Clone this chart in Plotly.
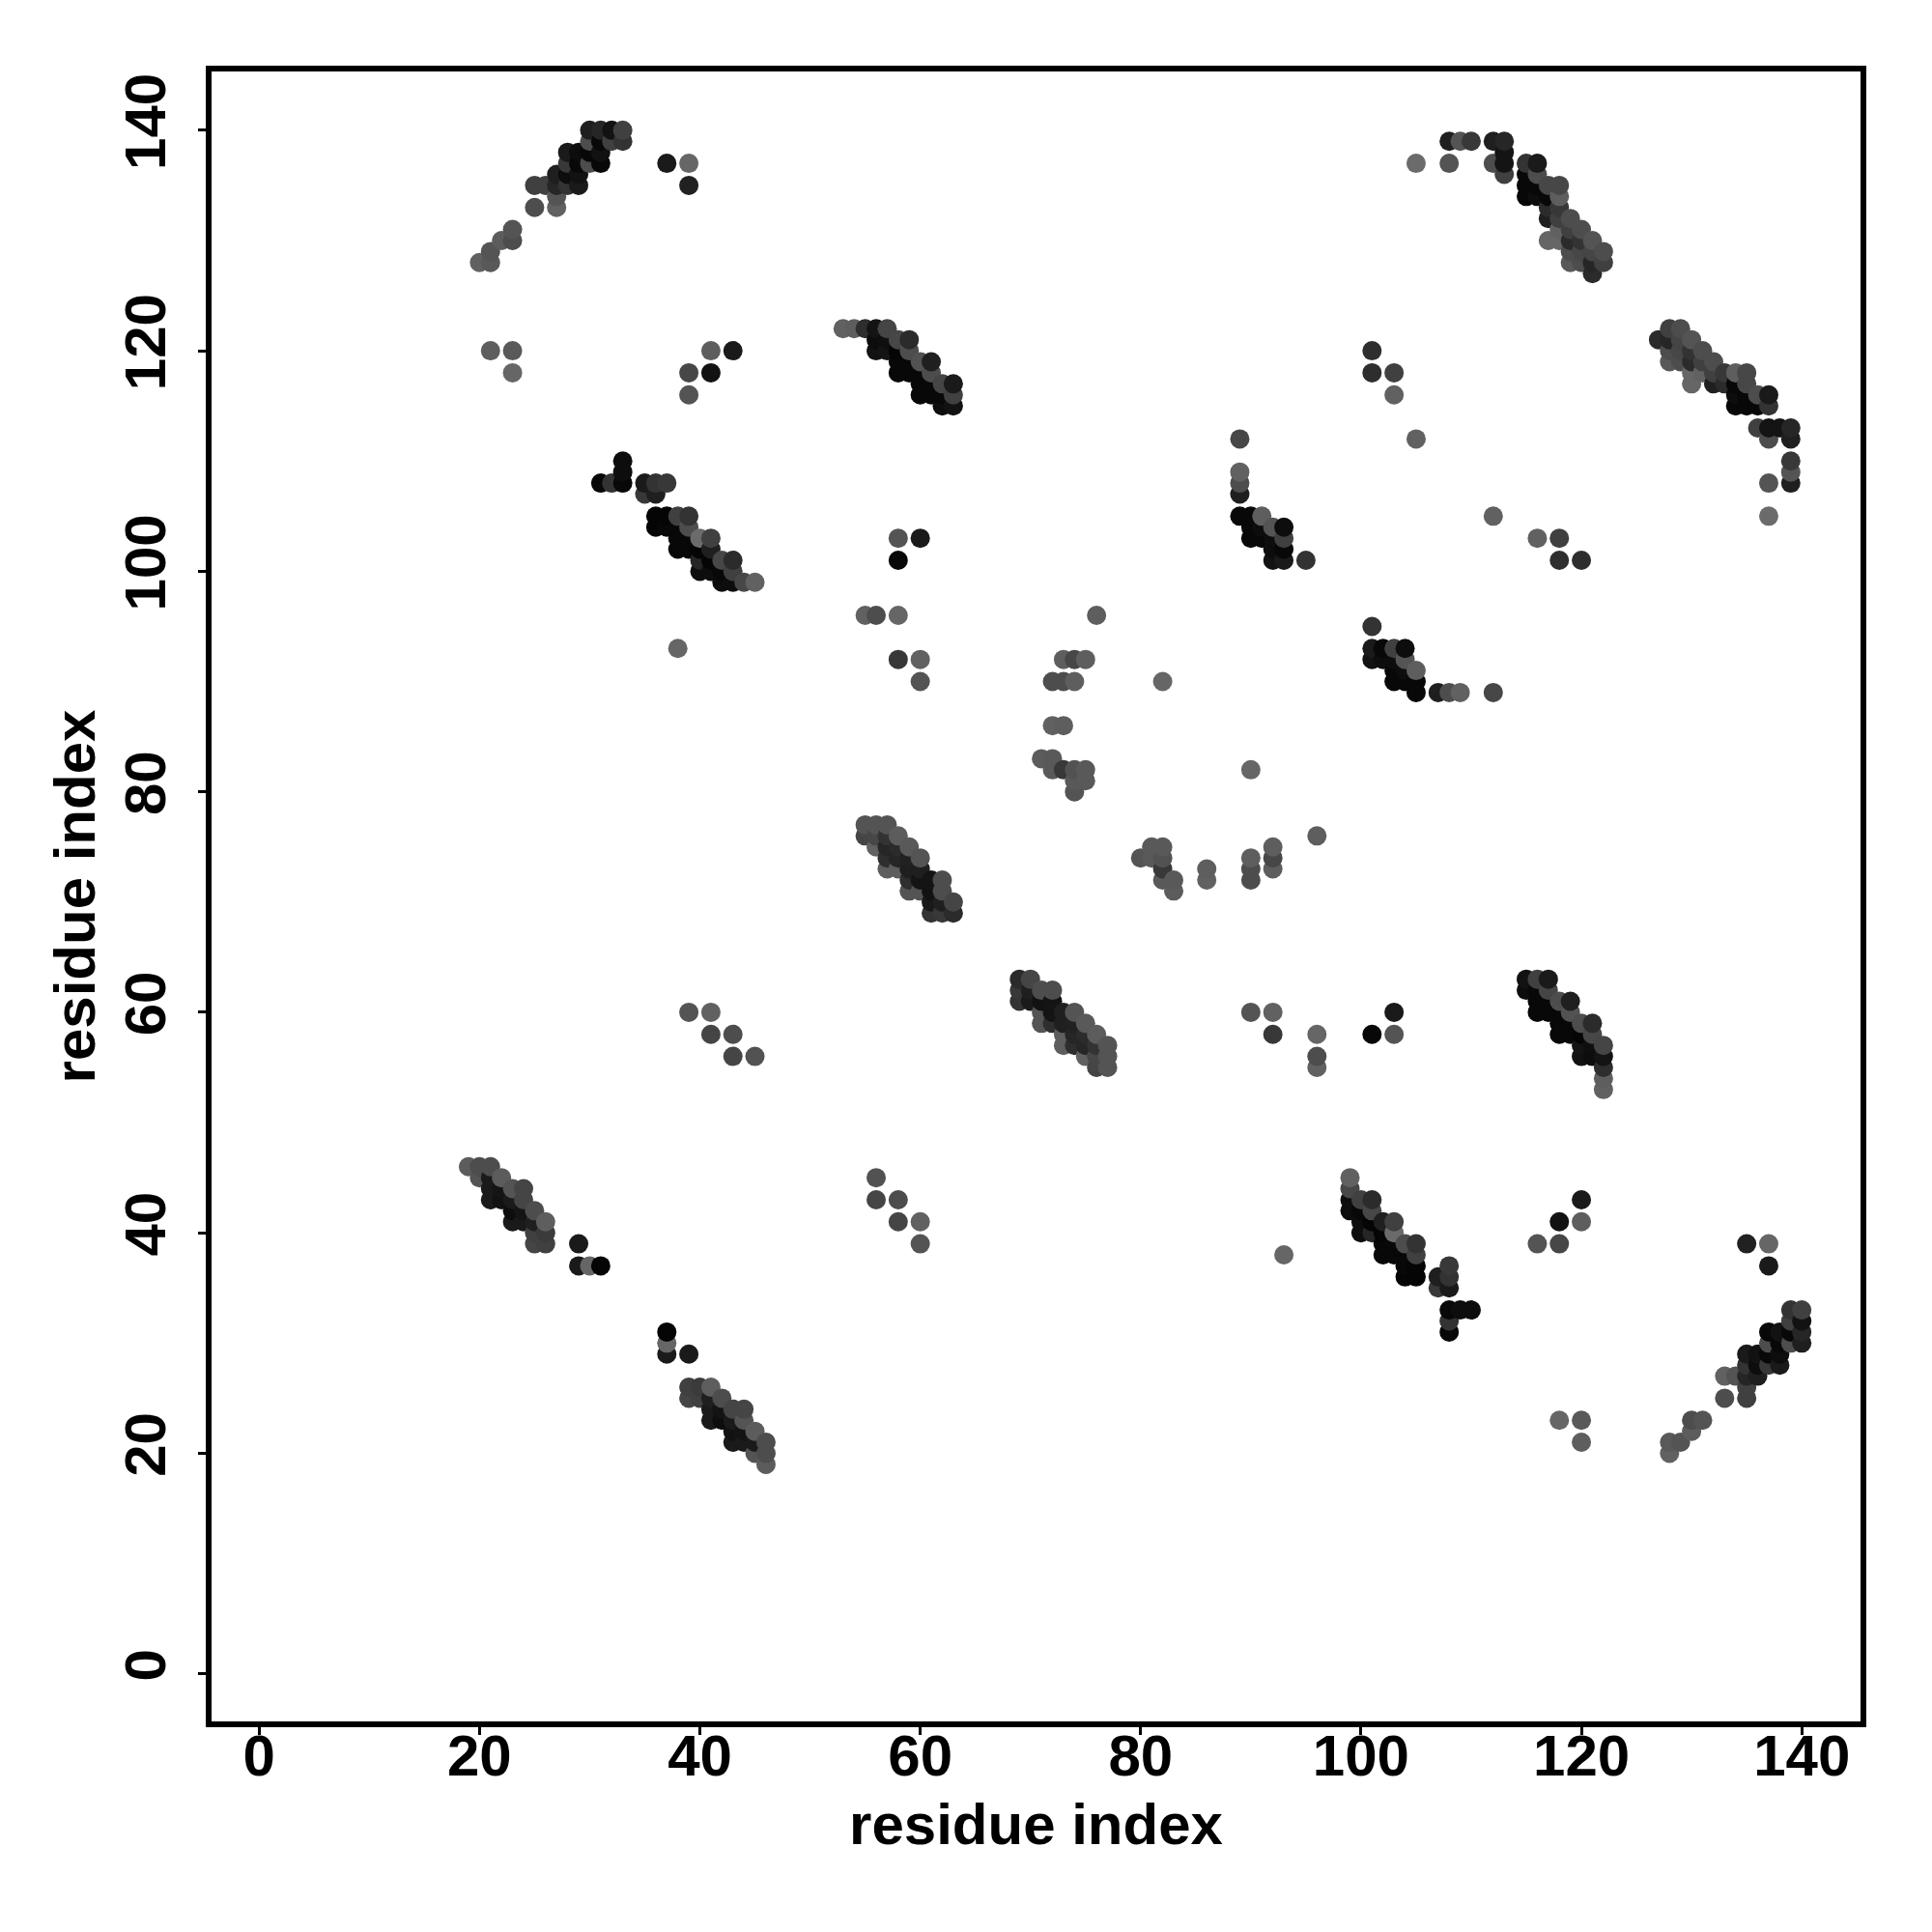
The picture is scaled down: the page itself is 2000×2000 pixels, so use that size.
import plotly.graph_objects as go

# one half of the symmetric contact map: (residue_a, residue_b, grey level 0=black .. 1=white)
contacts = [
 (20,128,.38),(21,128,.35),(21,129,.33),(22,130,.36),(23,130,.30),(23,131,.33),(25,133,.30),(27,133,.38),(27,134,.33),
 (25,135,.25),(26,135,.25),(27,135,.15),(28,135,.20),(29,135,.10),(27,136,.12),(28,136,.05),(29,136,.07),
 (28,137,.22),(29,137,.03),(30,137,.30),(31,137,.03),(28,138,.10),(29,138,.05),(30,138,.03),(31,138,.07),
 (30,139,.30),(31,139,.03),(32,139,.25),(33,139,.20),(30,140,.12),(31,140,.15),(32,140,.07),(33,140,.25),
 (37,137,.10),(39,137,.40),(39,135,.13),
 (21,120,.37),(23,120,.35),(23,118,.40),(39,116,.33),(39,118,.28),(41,120,.37),(41,118,.07),(43,120,.10),
 (53,122,.38),(54,122,.37),(55,122,.18),(56,122,.08),(57,122,.27),(56,121,.05),(57,121,.06),(58,121,.28),(59,121,.17),
 (56,120,.07),(57,120,.08),(58,120,.02),(59,120,.30),(60,119,.32),(61,119,.12),(58,119,.03),(59,119,.03),
 (58,118,.03),(59,118,.03),(60,118,.03),(61,118,.30),(60,117,.03),(61,117,.03),(62,117,.27),(63,117,.10),
 (60,116,.03),(61,116,.03),(62,116,.03),(63,116,.25),(62,115,.05),(63,115,.07),
 (31,108,.03),(32,108,.20),(33,108,.03),(33,109,.05),(33,110,.05),(35,108,.10),(36,108,.20),(37,108,.22),(35,107,.22),(36,107,.12),
 (36,105,.02),(37,105,.02),(38,105,.25),(39,105,.20),(36,104,.02),(37,104,.03),(38,104,.03),(39,104,.30),
 (38,103,.03),(39,103,.03),(40,103,.42),(41,103,.25),(38,102,.03),(39,102,.03),(40,102,.02),(41,102,.12),
 (40,101,.15),(41,101,.02),(42,101,.28),(43,101,.17),(40,100,.05),(41,100,.05),(42,100,.03),(43,100,.25),
 (42,99,.05),(43,99,.05),(44,99,.28),(45,99,.38),(38,93,.40),
 (76,96,.37),(73,92,.37),(74,92,.28),(75,92,.37),(72,90,.30),(73,90,.30),(74,90,.37),(72,86,.38),(73,86,.37),
 (71,83,.36),(72,83,.35),(72,82,.35),(73,82,.22),(74,82,.32),(75,82,.35),(74,81,.35),(75,81,.35),(74,80,.33),
 (89,112,.28),(89,109,.38),(89,108,.30),(89,107,.12),(89,105,.03),(90,105,.03),(91,105,.37),(90,104,.03),(91,104,.05),(92,104,.33),(93,104,.05),
 (90,103,.03),(91,103,.03),(92,103,.05),(93,103,.25),(92,102,.05),(93,102,.03),(92,101,.07),(93,101,.10),(95,101,.20),
 (105,137,.42),(108,139,.12),(109,139,.33),(110,139,.22),(108,137,.33),(112,139,.12),(113,139,.15),(112,137,.30),(113,138,.08),(113,137,.08),(113,136,.25),
 (115,137,.20),(116,137,.10),(115,136,.03),(116,136,.30),(115,135,.03),(116,135,.03),(117,135,.28),(118,135,.28),
 (115,134,.03),(116,134,.05),(117,134,.03),(118,134,.37),(117,133,.17),(118,133,.22),(117,132,.12),(118,132,.25),(119,132,.30),
 (118,131,.38),(119,131,.25),(120,131,.30),(117,130,.40),(118,130,.40),(119,130,.17),(120,130,.20),(121,130,.33),
 (119,129,.30),(120,129,.28),(121,129,.27),(122,129,.30),(119,128,.35),(120,128,.30),(121,128,.15),(122,128,.25),(121,127,.17),
 (19,46,.36),(20,46,.30),(21,46,.30),(20,45,.33),(21,45,.10),(22,45,.36),(21,44,.10),(22,44,.08),(23,44,.33),(24,44,.27),
 (21,43,.10),(22,43,.07),(23,43,.10),(24,43,.27),(23,42,.05),(24,42,.08),(25,42,.30),(23,41,.10),(24,41,.10),(25,41,.12),(26,41,.37),
 (25,40,.25),(26,40,.23),(25,39,.27),(26,39,.25),(29,39,.10),(29,37,.10),(30,37,.40),(31,37,.02),
 (55,77,.33),(56,77,.33),(57,77,.33),(55,76,.27),(56,76,.28),(57,76,.20),(58,76,.36),(56,75,.38),(57,75,.15),(58,75,.17),(59,75,.35),
 (57,74,.18),(58,74,.15),(59,74,.13),(60,74,.33),(57,73,.37),(58,73,.37),(59,73,.12),(60,73,.12),
 (59,72,.18),(60,72,.08),(61,72,.08),(62,72,.30),(59,71,.33),(60,71,.33),(61,71,.07),(62,71,.30),
 (61,70,.10),(62,70,.12),(63,70,.27),(61,69,.20),(62,69,.22),(63,69,.17),
 (58,103,.33),(60,103,.10),(58,101,.03),(55,96,.38),(56,96,.30),(58,96,.40),(58,92,.22),(60,92,.38),(60,90,.33),
 (39,60,.33),(41,60,.38),(41,58,.27),(43,58,.30),(43,56,.27),(45,56,.32),
 (82,90,.40),(105,112,.38),(101,120,.18),(101,118,.18),(103,118,.25),(103,116,.38),
]

tick_values = [0, 20, 40, 60, 80, 100, 120, 140]
axis_title = "residue index"

pts = sorted(set([(a, b, g) for a, b, g in contacts] + [(b, a, g) for a, b, g in contacts]), key=lambda p: (p[0], p[1]))
xs = [p[0] for p in pts]
ys = [p[1] for p in pts]
gs = [p[2] for p in pts]

FONT = "Liberation Sans"
fig = go.Figure(go.Scatter(
    x=xs, y=ys, mode="markers",
    marker=dict(size=20, color=gs, cmin=0, cmax=1,
                colorscale=[[0, "#000000"], [1, "#ffffff"]], showscale=False, line=dict(width=0)),
    hoverinfo="skip"))

axis = dict(range=[-4.316, 145.33], tickmode="array", tickvals=tick_values, ticks="outside",
            ticklen=8, tickwidth=3, tickcolor="black", showline=True, linecolor="black", linewidth=5.5,
            mirror=True, showgrid=False, zeroline=False, automargin=False,
            tickfont=dict(family=FONT, size=60, color="black", weight=700),
            title=dict(text=axis_title, font=dict(family=FONT, size=60, color="black", weight=700)))
fig.update_xaxes(**axis)
fig.update_yaxes(**axis)
fig.update_xaxes(ticklabelstandoff=-30, title_standoff=19)
fig.update_yaxes(tickangle=-90, ticklabelstandoff=10, title_standoff=1)
fig.update_layout(width=2000, height=2000, autosize=False, paper_bgcolor="white", plot_bgcolor="white",
                  margin=dict(l=210.75, r=81.75, t=66.15, b=226.35), showlegend=False)
fig.write_html("out.html")
